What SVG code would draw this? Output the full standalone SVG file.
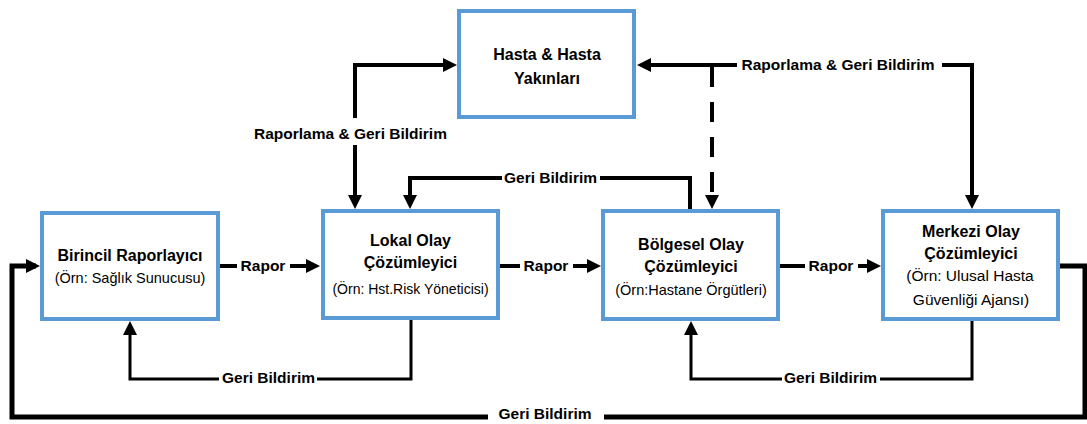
<svg xmlns="http://www.w3.org/2000/svg" width="1087" height="424" viewBox="0 0 1087 424">
<style>
.box{fill:#fff;stroke:#5B9BD5;stroke-width:4}
.t{font-family:"Liberation Sans",Arial,sans-serif;fill:#000;text-anchor:middle}
.b{font-weight:bold;font-size:16px}
.r{font-size:14px}
.lbl{font-family:"Liberation Sans",Arial,sans-serif;font-weight:bold;font-size:15.5px;fill:#000;text-anchor:middle}
.ln{fill:none;stroke:#000;stroke-width:4;stroke-linejoin:miter}
.thin{stroke-width:3}
.thick{stroke-width:5}
.dash{stroke-dasharray:20 15}
.bg{fill:#fff}
</style>
<defs>
<marker id="ah" markerUnits="userSpaceOnUse" markerWidth="14" markerHeight="14" refX="10" refY="7" orient="auto-start-reverse">
<path d="M0,0 L14,7 L0,14 z" fill="#000"/>
</marker>
</defs>
<rect width="1087" height="424" fill="#fff"/>
<g id="connectors">
<path class="ln" d="M220,266 H316" marker-end="url(#ah)"/>
<path class="ln" d="M500,266 H597" marker-end="url(#ah)"/>
<path class="ln" d="M780,266 H877" marker-end="url(#ah)"/>
<path class="ln thick" d="M1060,266 H1085 V417 H12 V266 H36" marker-end="url(#ah)"/>
<path class="ln thin" d="M411,320 V379 H130 V325" marker-end="url(#ah)"/>
<path class="ln thin" d="M972,321 V379 H691 V325" marker-end="url(#ah)"/>
<path class="ln" d="M690,209 V178 H410 V205" marker-end="url(#ah)"/>
<path class="ln" d="M355,205 V65 H453" marker-start="url(#ah)" marker-end="url(#ah)"/>
<path class="ln" d="M972,205 V65 H641" marker-start="url(#ah)" marker-end="url(#ah)"/>
<path class="ln dash" d="M712,67 V205" marker-end="url(#ah)"/>
<rect class="bg" x="237" y="256" width="53" height="20"/>
<text class="lbl" x="263" y="271">Rapor</text>
<rect class="bg" x="520" y="256" width="53" height="20"/>
<text class="lbl" x="546" y="271">Rapor</text>
<rect class="bg" x="805" y="256" width="53" height="20"/>
<text class="lbl" x="831" y="271">Rapor</text>
<rect class="bg" x="488" y="406" width="116" height="20"/>
<text class="lbl" x="545" y="419">Geri Bildirim</text>
<rect class="bg" x="219" y="370" width="98" height="18"/>
<text class="lbl" x="268.5" y="383">Geri Bildirim</text>
<rect class="bg" x="782" y="370" width="98" height="18"/>
<text class="lbl" x="830.5" y="383">Geri Bildirim</text>
<rect class="bg" x="502" y="169" width="98" height="18"/>
<text class="lbl" x="550.5" y="183">Geri Bildirim</text>
<rect class="bg" x="250" y="118" width="201" height="27"/>
<text class="lbl" x="350.5" y="139">Raporlama &amp; Geri Bildirim</text>
<rect class="bg" x="737" y="55" width="205" height="21"/>
<text class="lbl" x="838" y="70">Raporlama &amp; Geri Bildirim</text>
</g>
<g id="hasta">
<rect class="box" x="459" y="11" width="175" height="106"/>
<text class="t b" x="547" y="60">Hasta &amp; Hasta</text>
<text class="t b" x="547" y="84">Yakınları</text>
</g>
<g id="birincil">
<rect class="box" x="42" y="213" width="176" height="106"/>
<text class="t b" x="130" y="261">Birincil Raporlayıcı</text>
<text class="t r" x="130" y="283" style="font-size:14.5px">(Örn: Sağlık Sunucusu)</text>
</g>
<g id="lokal">
<rect class="box" x="323" y="211" width="175" height="107"/>
<text class="t b" x="410.5" y="246">Lokal Olay</text>
<text class="t b" x="410.5" y="268">Çözümleyici</text>
<text class="t r" x="410.5" y="294">(Örn: Hst.Risk Yöneticisi)</text>
</g>
<g id="bolgesel">
<rect class="box" x="603" y="211" width="175" height="108"/>
<text class="t b" x="691" y="250">Bölgesel Olay</text>
<text class="t b" x="691" y="272">Çözümleyici</text>
<text class="t r" x="691" y="295" style="font-size:14.5px">(Örn:Hastane Örgütleri)</text>
</g>
<g id="merkezi">
<rect class="box" x="883" y="211" width="175" height="108"/>
<text class="t b" x="971" y="237">Merkezi Olay</text>
<text class="t b" x="971" y="259">Çözümleyici</text>
<text class="t r" x="970" y="281" style="font-size:15.5px">(Örn: Ulusal Hasta</text>
<text class="t r" x="971" y="305" style="font-size:15.5px">Güvenliği Ajansı)</text>
</g>
</svg>
